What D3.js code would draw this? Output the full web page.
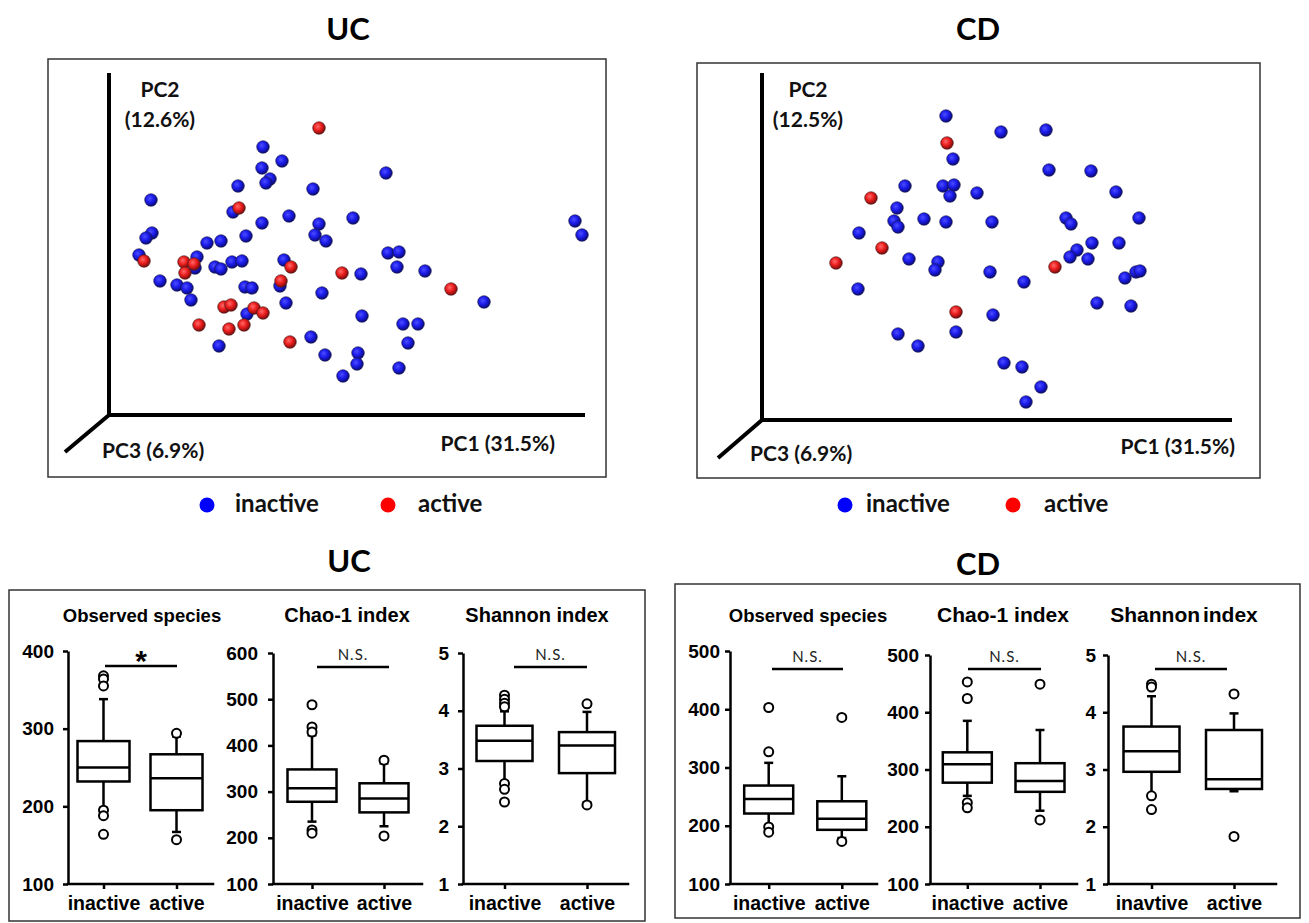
<!DOCTYPE html>
<html>
<head>
<meta charset="utf-8">
<script src="https://cdn.jsdelivr.net/npm/d3@7"></script>
<style>
  body { margin: 0; background: #fff; }
  svg { display: block; }
</style>
</head>
<body>
<div id="chart"></div>
<script>
// ---------- data ----------
var groups = ["inactive", "active"];
var legendLabels = ["inactive", "active"];

// PCA scores [PC1, PC2] (projected, arbitrary units)
var ucInactive = [[154,268],[173,254],[153,247],[161,236],[157,232],[129,229],[204,226],[42,215],[124,203],[180,199],
  [153,192],[210,191],[43,182],[37,177],[137,179],[112,174],[98,172],[206,180],[217,174],[30,160],[88,158],[86,147],
  [106,148],[112,146],[123,153],[133,154],[175,155],[51,134],[68,130],[78,127],[82,115],[136,128],[143,127],[171,129],
  [213,122],[177,112],[138,101],[110,69],[202,78],[216,60],[277,242],[244,197],[466,194],[473,180],[279,162],[290,163],
  [288,148],[316,144],[252,141],[253,99],[375,113],[294,91],[309,91],[299,72],[249,62],[248,51],[234,39],[290,47]];
var ucActive = [[210,287],[233,142],[342,126],[130,207],[35,154],[75,153],[85,151],[76,142],[182,148],[172,134],
  [115,108],[122,110],[145,107],[154,102],[90,90],[120,86],[135,90],[181,73]];
var cdInactive = [[184,304],[191,261],[143,234],[181,234],[192,235],[188,224],[215,227],[135,212],[132,199],[136,193],
  [162,201],[184,198],[97,187],[147,161],[176,158],[173,150],[96,131],[194,88],[136,86],[156,74],[239,288],[284,290],
  [287,250],[329,249],[354,228],[230,198],[304,202],[309,196],[377,202],[330,177],[357,177],[315,170],[308,163],[326,161],
  [228,148],[262,138],[363,142],[374,148],[378,149],[335,117],[369,114],[231,105],[242,57],[260,53],[279,33],[264,18]];
var cdActive = [[185,277],[109,222],[120,172],[74,157],[194,108],[293,153]];

// alpha diversity box summaries: lo whisker, q1, median, q3, hi whisker, outliers
var ucObserved = [
  {lo:198, q1:232, med:250, q3:284, hi:338, out:[368,364,355,195,188,164]},
  {lo:167, q1:195, med:236, q3:267, hi:290, out:[294,157]}];
var ucChao = [
  {lo:235, q1:278, med:307, q3:348, hi:422, out:[488,440,429,217,210]},
  {lo:225, q1:255, med:285, q3:318, hi:361, out:[368,204]}];
var ucShannon = [
  {lo:2.78, q1:3.13, med:3.48, q3:3.74, hi:3.99, out:[4.27,4.2,4.13,4.07,2.74,2.64,2.42]},
  {lo:2.41, q1:2.92, med:3.40, q3:3.63, hi:3.98, out:[4.12,2.37]}];
var cdObserved = [
  {lo:200, q1:221, med:246, q3:269, hi:308, out:[403,327,198,189]},
  {lo:179, q1:193, med:212, q3:242, hi:285, out:[386,173]}];
var cdChao = [
  {lo:254, q1:277, med:309, q3:330, hi:385, out:[453,424,242,233]},
  {lo:228, q1:261, med:280, q3:311, hi:369, out:[449,212]}];
var cdShannon = [
  {lo:2.55, q1:2.96, med:3.32, q3:3.75, hi:4.28, out:[4.49,4.44,2.54,2.30]},
  {lo:2.62, q1:2.66, med:2.83, q3:3.69, hi:3.98, out:[4.32,1.83]}];

var metricTitles = ["Observed species", "Chao-1 index", "Shannon index"];
var ucObsTicks = [100, 200, 300, 400];
var ucChaoTicks = [100, 200, 300, 400, 500, 600];
var cdObsTicks = [100, 200, 300, 400, 500];
var cdChaoTicks = [100, 200, 300, 400, 500];
var shannonTicks = [1, 2, 3, 4, 5];
var ucSig = ["*", "N.S.", "N.S."];
var cdSig = ["N.S.", "N.S.", "N.S."];
var cdShannonCats = ["inavtive", "active"];

// ---------- drawing ----------
var W = 1309, H = 923;
var svg = d3.select("#chart").append("svg")
    .attr("width", W)
    .attr("height", H);

var defs = svg.append("defs");
function ball(id, c0, c1, c2) {
  var gr = defs.append("radialGradient").attr("id", id)
      .attr("cx", "40%").attr("cy", "38%").attr("r", "62%");
  gr.append("stop").attr("offset", "0%").attr("stop-color", c0);
  gr.append("stop").attr("offset", "50%").attr("stop-color", c1);
  gr.append("stop").attr("offset", "100%").attr("stop-color", c2);
}
ball("ballBlue", "#4d4dff", "#1c1cec", "#0b0b78");
ball("ballRed", "#ff6a6a", "#ec1d1d", "#7a0d0d");

var pcaFont = "Lato, 'Open Sans', sans-serif";
var boxFont = "'Liberation Sans', Arial, sans-serif";

// big titles
function title(txt, x, y) {
  svg.append("text").attr("x", x).attr("y", y)
    .attr("text-anchor", "middle")
    .style("font-family", pcaFont).style("font-weight", 700).style("font-size", "31px")
    .text(txt);
}
title("UC", 348, 40);
title("CD", 978, 40);
title("UC", 349, 572);
title("CD", 978, 575);

// PCA panel
function pcaPanel(p, inactive, active, pc2Label) {
  svg.append("rect")
    .attr("x", p.box[0]).attr("y", p.box[1])
    .attr("width", p.box[2] - p.box[0]).attr("height", p.box[3] - p.box[1])
    .attr("fill", "none").attr("stroke", "#333").attr("stroke-width", 1.5);

  var x = d3.scaleLinear().domain([0, p.xLen]).range([p.ox, p.ox + p.xLen]);
  var y = d3.scaleLinear().domain([0, p.yLen]).range([p.oy, p.oy - p.yLen]);

  var g = svg.append("g");
  var axisPath = d3.path();
  axisPath.moveTo(x(0), y(p.yLen));
  axisPath.lineTo(x(0), y(0));
  axisPath.lineTo(x(p.xLen), y(0));
  g.append("path").attr("d", axisPath.toString())
    .attr("fill", "none").attr("stroke", "#000").attr("stroke-width", 4);
  g.append("line")
    .attr("x1", x(0)).attr("y1", y(0))
    .attr("x2", x(0) - p.diag[0]).attr("y2", y(0) + p.diag[1])
    .attr("stroke", "#000").attr("stroke-width", 4);

  var lab = function(txt, lx, ly, anchor) {
    g.append("text").attr("x", lx).attr("y", ly).attr("text-anchor", anchor || "start")
      .style("font-family", pcaFont).style("font-weight", 700).style("font-size", "21px")
      .style("fill", "#111").text(txt);
  };
  lab("PC2", p.pc2x, 97, "middle");
  lab(pc2Label, p.pc2x, 127, "middle");
  lab("PC3 (6.9%)", p.pc3x, p.pc3y);
  lab("PC1 (31.5%)", p.pc1x, p.pc1y, "end");

  g.selectAll(".inact").data(inactive).enter().append("circle")
    .attr("cx", function(d) { return x(d[0]); })
    .attr("cy", function(d) { return y(d[1]); })
    .attr("r", 6.3)
    .attr("fill", "url(#ballBlue)")
    .attr("stroke", "#1a1a40").attr("stroke-width", 0.6);
  g.selectAll(".act").data(active).enter().append("circle")
    .attr("cx", function(d) { return x(d[0]); })
    .attr("cy", function(d) { return y(d[1]); })
    .attr("r", 6.3)
    .attr("fill", "url(#ballRed)")
    .attr("stroke", "#401a1a").attr("stroke-width", 0.6);

  // legend
  var cols = ["#0000ff", "#ff0000"];
  legendLabels.forEach(function(t, i) {
    svg.append("circle").attr("cx", p.leg[i][0]).attr("cy", 505).attr("r", 7.5).attr("fill", cols[i]);
    svg.append("text").attr("x", p.leg[i][1]).attr("y", 512)
      .style("font-family", pcaFont).style("font-weight", 700).style("font-size", "24px")
      .style("fill", "#111").text(t);
  });
}

pcaPanel({box: [48, 59, 606, 477], ox: 109, oy: 415, xLen: 476, yLen: 342, diag: [44, 37],
          pc2x: 160, pc3x: 102, pc3y: 458, pc1x: 555, pc1y: 451,
          leg: [[207, 235], [388, 418]]},
         ucInactive, ucActive, "(12.6%)");
pcaPanel({box: [697, 63, 1260, 478], ox: 762, oy: 420, xLen: 470, yLen: 347, diag: [44, 38],
          pc2x: 808, pc3x: 750, pc3y: 461, pc1x: 1235, pc1y: 454,
          leg: [[845, 866], [1013, 1044]]},
         cdInactive, cdActive, "(12.5%)");

// box plot frames
svg.append("rect").attr("x", 9).attr("y", 590).attr("width", 636).attr("height", 331)
  .attr("fill", "none").attr("stroke", "#333").attr("stroke-width", 1.5);
svg.append("rect").attr("x", 675).attr("y", 584).attr("width", 625).attr("height", 334)
  .attr("fill", "none").attr("stroke", "#333").attr("stroke-width", 1.5);

var yBottom = 884;

function boxPanel(p, stats, ticks, cats, titleTxt, sig) {
  var g = svg.append("g");
  var y = d3.scaleLinear().domain([ticks[0], ticks[ticks.length - 1]]).range([yBottom, p.top]);
  var x = d3.scalePoint().domain(cats).range(p.centers);

  g.append("text").attr("x", p.titleX).attr("y", 622).attr("text-anchor", "middle")
    .style("font-family", boxFont).style("font-weight", 700).style("font-size", p.titleSize + "px")
    .style("word-spacing", p.wordSp || "0px")
    .text(titleTxt);

  // y axis
  var ya = g.append("g").attr("transform", "translate(" + p.axisX + ",0)")
    .call(d3.axisLeft(y).tickValues(ticks).tickSize(5).tickSizeOuter(0).tickPadding(p.pad)
      .tickFormat(d3.format("d")));
  // x axis
  var xa = g.append("g").attr("transform", "translate(0," + yBottom + ")")
    .call(d3.axisBottom(x).tickSize(5).tickSizeOuter(0).tickPadding(7));
  xa.select(".domain").remove();
  g.append("line").attr("x1", p.axisX).attr("x2", p.xEnd).attr("y1", yBottom).attr("y2", yBottom)
    .attr("stroke", "#000").attr("stroke-width", 2.5).attr("stroke-linecap", "square");
  [ya, xa].forEach(function(a) {
    a.selectAll("path, line").attr("stroke", "#000").attr("stroke-width", 2.5);
    a.selectAll("text").style("font-family", boxFont).style("font-weight", 700)
      .attr("fill", "#000");
  });
  ya.selectAll("text").style("font-size", "19px");
  xa.selectAll("text").style("font-size", "19.5px");

  var hw = p.boxW / 2, cap = 4.5;
  stats.forEach(function(s, i) {
    var cx = x(cats[i]);
    var b = g.append("g").attr("stroke", "#000").attr("stroke-width", 2.5).attr("fill", "none");
    b.append("line").attr("x1", cx).attr("x2", cx).attr("y1", y(s.q3)).attr("y2", y(s.hi));
    b.append("line").attr("x1", cx).attr("x2", cx).attr("y1", y(s.q1)).attr("y2", y(s.lo));
    b.append("line").attr("x1", cx - cap).attr("x2", cx + cap).attr("y1", y(s.hi)).attr("y2", y(s.hi));
    b.append("line").attr("x1", cx - cap).attr("x2", cx + cap).attr("y1", y(s.lo)).attr("y2", y(s.lo));
    b.append("rect").attr("x", cx - hw).attr("y", y(s.q3))
      .attr("width", p.boxW).attr("height", y(s.q1) - y(s.q3)).attr("fill", "#fff");
    b.append("line").attr("x1", cx - hw).attr("x2", cx + hw).attr("y1", y(s.med)).attr("y2", y(s.med));
    b.selectAll("circle").data(s.out).enter().append("circle")
      .attr("cx", cx).attr("cy", function(d) { return y(d); })
      .attr("r", 4.5).attr("fill", "#fff").attr("stroke-width", 2);
  });

  // significance bar
  g.append("line").attr("x1", p.bar[0]).attr("x2", p.bar[1]).attr("y1", p.barY).attr("y2", p.barY)
    .attr("stroke", "#000").attr("stroke-width", 2.5);
  var st = g.append("text").attr("x", (p.bar[0] + p.bar[1]) / 2).attr("text-anchor", "middle").text(sig);
  if (sig === "*") {
    st.attr("y", p.barY + 5).style("font-family", boxFont).style("font-weight", 700).style("font-size", "30px");
  } else {
    st.attr("y", p.barY - 7).style("font-family", pcaFont).style("font-size", "15px")
      .style("letter-spacing", "1px").style("fill", "#222");
  }
}

var ucLayout = [
  {axisX: 68, xEnd: 213, top: 651, centers: [103.5, 176.5], boxW: 52, titleX: 142, titleSize: 18.5, bar: [105, 177], barY: 666, pad: 9},
  {axisX: 273, xEnd: 422, top: 653, centers: [312, 384], boxW: 49, titleX: 347, titleSize: 20, bar: [317, 389], barY: 667, pad: 10},
  {axisX: 463, xEnd: 628, top: 653, centers: [504.5, 587], boxW: 56, titleX: 537, titleSize: 20, bar: [514, 587], barY: 667, pad: 9}
];
var cdLayout = [
  {axisX: 730, xEnd: 877, top: 651, centers: [768.7, 841.8], boxW: 49, titleX: 808, titleSize: 18.5, bar: [772, 843], barY: 669, pad: 5},
  {axisX: 930, xEnd: 1077, top: 655, centers: [967.3, 1040], boxW: 49, titleX: 1003, titleSize: 21, bar: [968, 1041], barY: 669, pad: 6},
  {axisX: 1108, xEnd: 1276, top: 655, centers: [1151.5, 1234], boxW: 56, titleX: 1184, titleSize: 21, bar: [1155, 1227], barY: 669, pad: 7, wordSp: "-3px"}
];

boxPanel(ucLayout[0], ucObserved, ucObsTicks, groups, metricTitles[0], ucSig[0]);
boxPanel(ucLayout[1], ucChao, ucChaoTicks, groups, metricTitles[1], ucSig[1]);
boxPanel(ucLayout[2], ucShannon, shannonTicks, groups, metricTitles[2], ucSig[2]);
boxPanel(cdLayout[0], cdObserved, cdObsTicks, groups, metricTitles[0], cdSig[0]);
boxPanel(cdLayout[1], cdChao, cdChaoTicks, groups, metricTitles[1], cdSig[1]);
boxPanel(cdLayout[2], cdShannon, shannonTicks, cdShannonCats, metricTitles[2], cdSig[2]);
</script>
</body>
</html>
